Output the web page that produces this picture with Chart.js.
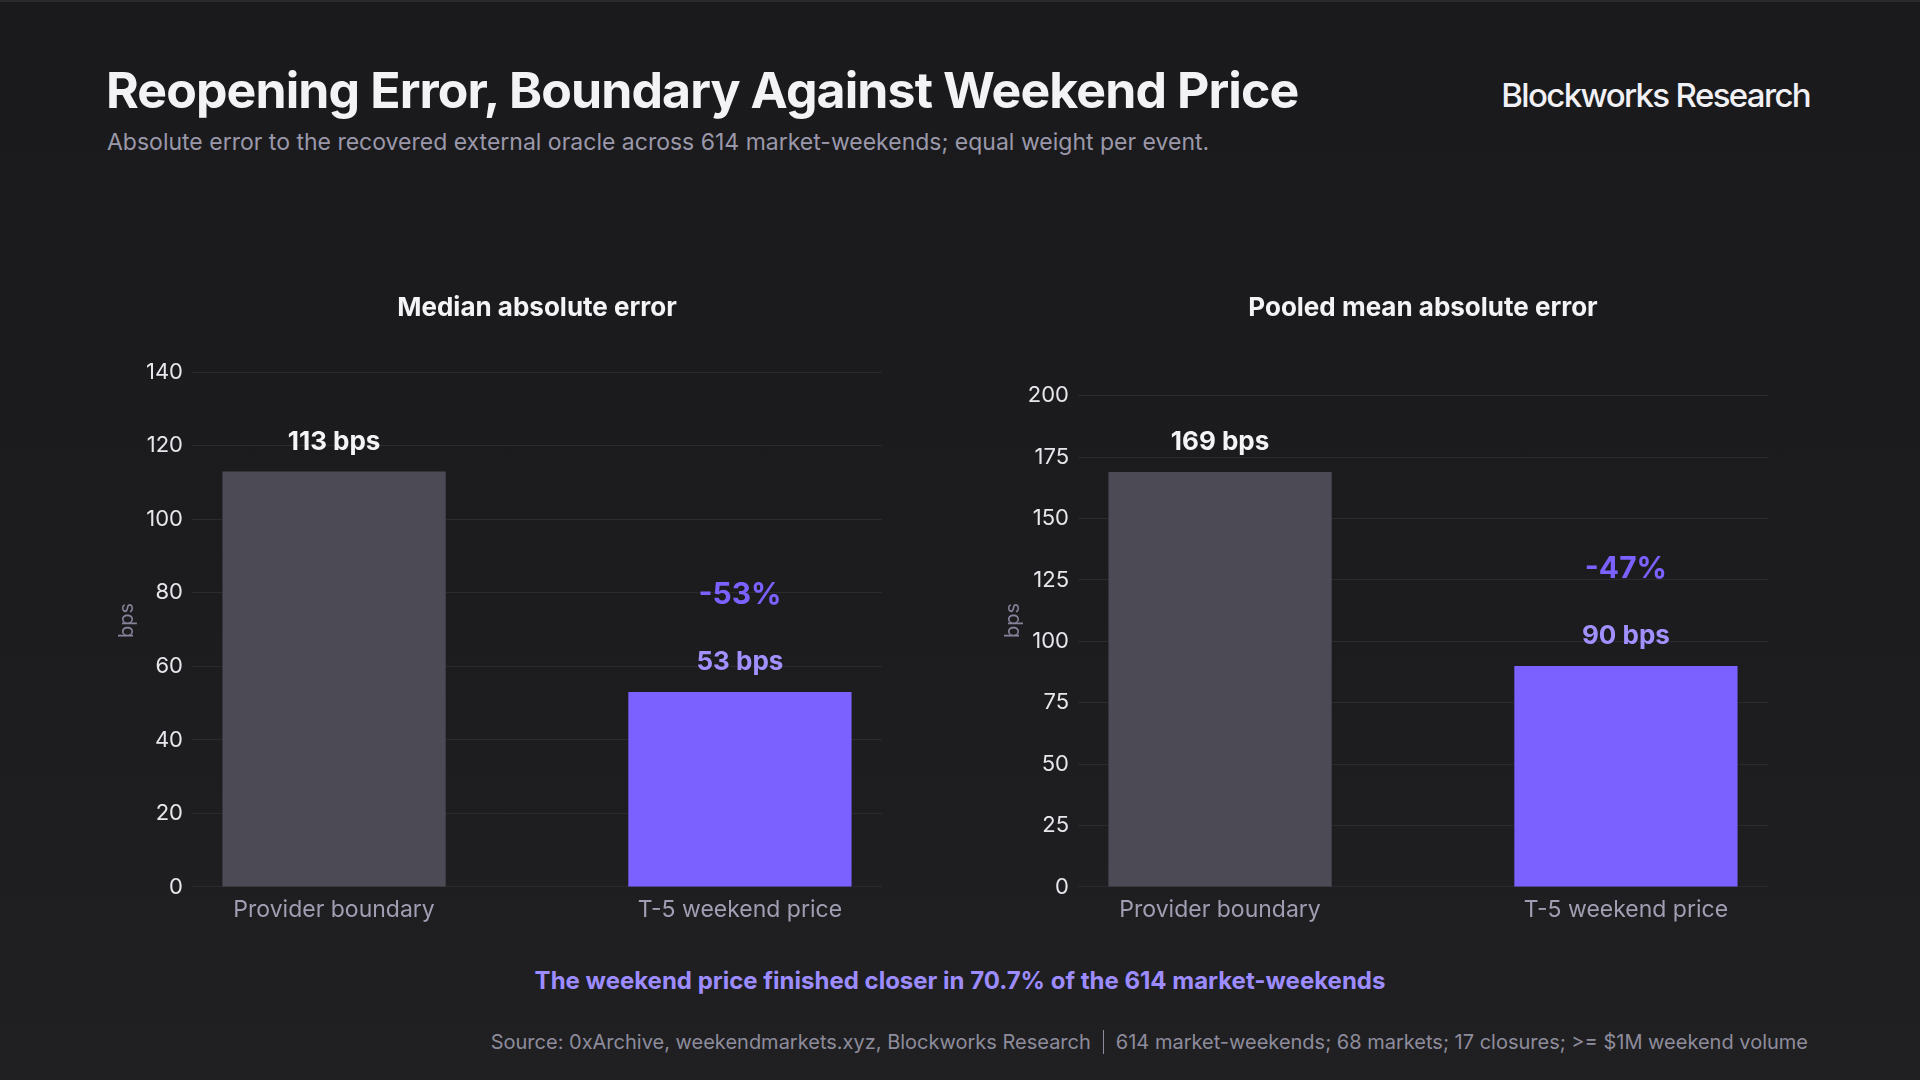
<!DOCTYPE html>
<html>
<head>
<meta charset="utf-8">
<script src="https://cdn.jsdelivr.net/npm/chart.js@4"></script>
<style>
  html, body { margin: 0; padding: 0; }
  body {
    width: 1920px; height: 1080px; position: relative; overflow: hidden;
    background: linear-gradient(180deg, #1a1a1c 0%, #1c1c1e 55%, #202022 100%);
    font-family: Inter, "Noto Sans", sans-serif;
    border-top: 2px solid #2a2a2c; box-sizing: border-box;
  }
  .title { position: absolute; left: 106px; top: 58px; font-size: 50px; font-weight: 700; color: #f3f3f6; letter-spacing: -0.9px; }
  .subtitle { position: absolute; left: 107px; top: 126px; font-size: 23px; color: #9a98aa; }
  .brand { position: absolute; right: 110px; top: 73px; font-size: 33px; font-weight: 500; color: #f1f1f5; letter-spacing: -1.65px; }
  .panel { position: absolute; top: 280px; }
  .note { position: absolute; left: 0; width: 1920px; top: 964px; text-align: center; font-size: 24px; font-weight: 700; color: #9d8cff; }
  .source { position: absolute; right: 112px; top: 1028px; font-size: 20px; color: #8e8c9c; }
  .sep { display: inline-block; width: 1px; height: 24px; background: #8e8c9c; vertical-align: -5px; margin: 0 12px; }
</style>
</head>
<body>
<div class="title">Reopening Error, Boundary Against Weekend Price</div>
<div class="subtitle">Absolute error to the recovered external oracle across 614 market-weekends; equal weight per event.</div>
<div class="brand">Blockworks Research</div>

<div class="panel" style="left:90px"><canvas id="medianChart" width="800" height="660"></canvas></div>
<div class="panel" style="left:976px"><canvas id="meanChart" width="800" height="660"></canvas></div>

<div class="note">The weekend price finished closer in 70.7% of the 614 market-weekends</div>
<div class="source">Source: 0xArchive, weekendmarkets.xyz, Blockworks Research<span class="sep"></span>614 market-weekends; 68 markets; 17 closures; &gt;= $1M weekend volume</div>

<script>
// categories shared by both panels
const categories = ['Provider boundary', 'T-5 weekend price'];

// median absolute error (bps)
const medianValues = [113, 53];
const medianLabels = ['113 bps', '53 bps'];
const medianChange = '-53%';

// pooled mean absolute error (bps)
const meanValues = [169, 90];
const meanLabels = ['169 bps', '90 bps'];
const meanChange = '-47%';

const barColors = ['#4b4a55', '#7b61ff'];
const labelColors = ['#f4f4f7', '#a191ff'];

Chart.defaults.font.family = 'Inter, "Noto Sans", sans-serif';

// panel title centred on the plot area, value labels above bars, change label above the second bar
const barLabels = {
    id: 'barLabels',
    afterDatasetsDraw(chart, args, opts) {
        const ctx = chart.ctx;
        const area = chart.chartArea;
        const bars = chart.getDatasetMeta(0).data;
        ctx.save();
        ctx.textAlign = 'center';
        ctx.textBaseline = 'alphabetic';

        ctx.font = '700 26px Inter';
        ctx.fillStyle = '#f4f4f7';
        ctx.fillText(opts.title, (area.left + area.right) / 2, 34);

        bars.forEach((bar, i) => {
            ctx.font = '700 26px Inter';
            ctx.fillStyle = labelColors[i];
            ctx.fillText(opts.labels[i], bar.x, bar.y - 22);
        });
        const last = bars[bars.length - 1];
        ctx.font = '700 30px Inter';
        ctx.fillStyle = '#7b61ff';
        ctx.fillText(opts.change, last.x, last.y - 88);
        ctx.restore();
    }
};

function makeChart(id, title, values, labels, change, yMax, step) {
    return new Chart(document.getElementById(id), {
        type: 'bar',
        plugins: [barLabels],
        data: {
            datasets: [{
                data: categories.map((c, i) => ({ x: i, y: values[i] })),
                backgroundColor: barColors,
                borderWidth: 0,
                categoryPercentage: 1,
                barPercentage: 0.55,
            }]
        },
        options: {
            responsive: false,
            animation: false,
            layout: { padding: { right: 8, left: 0, top: 72, bottom: 17.5 } },
            plugins: {
                legend: { display: false },
                tooltip: { enabled: false },
                title: { display: false },
                barLabels: { title: title, labels: labels, change: change },
            },
            scales: {
                x: {
                    type: 'linear',
                    min: -0.35,
                    max: 1.35,
                    offset: false,
                    afterBuildTicks: (scale) => { scale.ticks = categories.map((c, i) => ({ value: i })); },
                    ticks: {
                        callback: (v) => categories[v],
                        color: '#a09eb2',
                        font: { size: 23 },
                        padding: 1,
                        maxRotation: 0,
                        autoSkip: false,
                    },
                    grid: { display: false },
                    border: { display: false },
                },
                y: {
                    min: 0,
                    max: yMax,
                    afterFit: (scale) => { scale.width = 102; },
                    ticks: {
                        stepSize: step,
                        includeBounds: false,
                        color: '#e6e6ec',
                        font: { size: 22 },
                        padding: 9,
                    },
                    grid: { color: '#2b2b2f', lineWidth: 1, drawTicks: false },
                    border: { display: false },
                    title: {
                        display: true,
                        text: 'bps',
                        color: '#85839a',
                        font: { size: 20 },
                        padding: { top: 25, bottom: 0 },
                    },
                },
            },
        },
    });
}

makeChart('medianChart', 'Median absolute error', medianValues, medianLabels, medianChange, 145, 20);
makeChart('meanChart', 'Pooled mean absolute error', meanValues, meanLabels, meanChange, 217, 25);
</script>
</body>
</html>
